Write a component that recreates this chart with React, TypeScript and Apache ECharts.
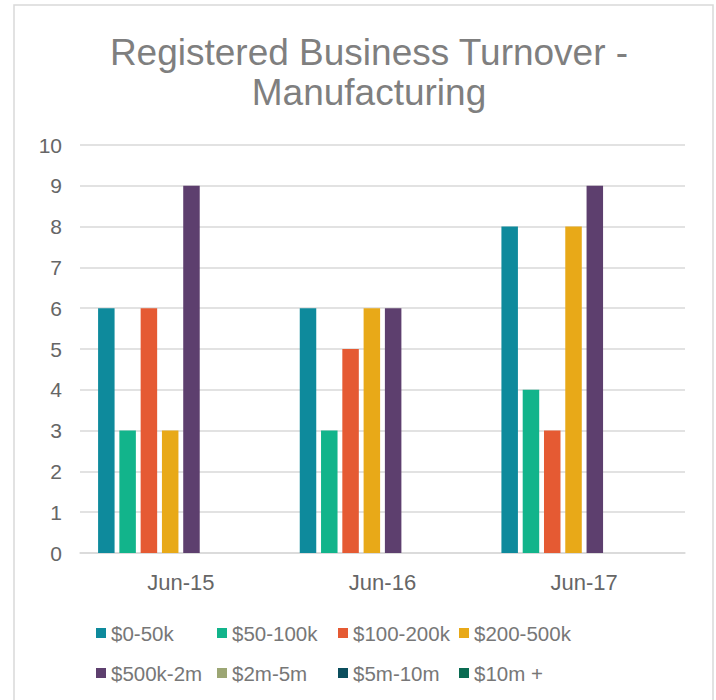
import React, { useEffect, useRef } from "react";
import * as echarts from "echarts";

const categories = ["Jun-15", "Jun-16", "Jun-17"];
const seriesNames = ["$0-50k", "$50-100k", "$100-200k", "$200-500k", "$500k-2m", "$2m-5m", "$5m-10m", "$10m +"];
const colors = ["#0E8A9C", "#12B48B", "#E55A33", "#E8A918", "#5D3F6E", "#9CA674", "#0B4E5D", "#0A6B52"];
const s0_50k = [6, 6, 8];
const s50_100k = [3, 3, 4];
const s100_200k = [6, 5, 3];
const s200_500k = [3, 6, 8];
const s500k_2m = [9, 6, 9];
const s2m_5m = [0, 0, 0];
const s5m_10m = [0, 0, 0];
const s10m = [0, 0, 0];
const seriesValues = [s0_50k, s50_100k, s100_200k, s200_500k, s500k_2m, s2m_5m, s5m_10m, s10m];
const yTicks = [0, 10, 1];

export default function App() {
  const ref = useRef<HTMLDivElement>(null);
  useEffect(() => {
    if (!ref.current) return;
    const chart = echarts.init(ref.current, null, { renderer: "svg" });
    const font = "Arial, 'Liberation Sans', sans-serif";
    chart.setOption({
      animation: false,
      backgroundColor: "#ffffff",
      color: colors,
      title: {
        text: "Registered Business Turnover -\nManufacturing",
        left: 364,
        textAlign: "center",
        top: 27,
        textStyle: { fontFamily: font, fontSize: 37, fontWeight: "normal", color: "#7f7f7f", lineHeight: 40 },
      },
      graphic: [
        {
          type: "rect",
          shape: { x: 14, y: 5, width: 699, height: 720 },
          style: { fill: "none", stroke: "#d9d9d9", lineWidth: 1.5 },
          silent: true,
        },
      ],
      grid: { left: 80, right: 31, top: 145, bottom: 147, containLabel: false },
      xAxis: {
        type: "category",
        data: categories,
        axisLine: { show: true, lineStyle: { color: "#d9d9d9", width: 1.5 } },
        axisTick: { show: false },
        axisLabel: { fontFamily: font, fontSize: 22, color: "#666666", margin: 18 },
      },
      yAxis: {
        type: "value",
        min: yTicks[0],
        max: yTicks[1],
        interval: yTicks[2],
        axisLine: { show: false },
        axisTick: { show: false },
        splitLine: { lineStyle: { color: "#d9d9d9", width: 1.5 } },
        axisLabel: { fontFamily: font, fontSize: 21, color: "#666666", margin: 18 },
      },
      legend: {
        data: seriesNames,
        left: 96,
        top: 613,
        width: 500,
        padding: 0,
        itemGap: 0,
        itemWidth: 10,
        itemHeight: 10,
        icon: "rect",
        textStyle: { fontFamily: font, fontSize: 20.5, color: "#777777", width: 106, lineHeight: 40, padding: [0, 0, 0, 0] },
      },
      series: seriesNames.map((name, i) => ({
        name,
        type: "bar",
        data: seriesValues[i],
        barWidth: 16.5,
        barGap: "29%",
        itemStyle: { color: colors[i] },
      })),
    });
    return () => chart.dispose();
  }, []);
  return <div ref={ref} style={{ width: 716, height: 700, position: "absolute", left: 0, top: 0 }} />;
}
